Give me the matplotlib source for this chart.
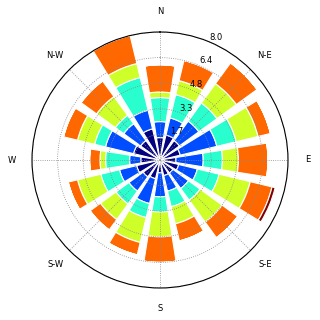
import numpy as np
import matplotlib
matplotlib.use("Agg")
import matplotlib.pyplot as plt

# wind directions, clockwise from north (16 sectors)
directions = ["N", "NNE", "NE", "ENE", "E", "ESE", "SE", "SSE",
              "S", "SSW", "SW", "WSW", "W", "WNW", "NW", "NNW"]

# frequency (%) of each speed bin per direction
bin1 = [1.4, 1.6, 1.5, 1.3, 1.0, 1.2, 1.0, 1.0, 0.8, 1.2, 1.3, 1.5, 1.2, 1.7, 1.5, 2.0]
bin2 = [1.0, 1.1, 1.5, 2.35, 1.7, 1.2, 1.2, 1.0, 1.5, 1.6, 1.1, 1.1, 0.7, 1.8, 1.3, 1.2]
bin3 = [1.5, 1.5, 1.4, 1.25, 1.2, 1.4, 0.9, 1.0, 0.95, 0.9, 1.0, 1.2, 1.5, 0.7, 0.65, 2.1]
bin4 = [0.35, 0.9, 1.5, 1.4, 1.0, 2.0, 1.7, 1.1, 1.55, 1.6, 1.2, 1.5, 0.35, 1.1, 1.45, 0.9]
bin5 = [1.7, 1.3, 1.6, 0.8, 1.85, 1.4, 1.2, 1.1, 1.6, 0.8, 0.8, 0.6, 0.65, 0.9, 1.2, 1.8]
bin6 = [0, 0, 0, 0, 0, 0.2, 0, 0, 0, 0, 0, 0, 0, 0, 0, 0]
bins = [bin1, bin2, bin3, bin4, bin5, bin6]

rgrid_vals = [1.6, 3.2, 4.8, 6.4, 8.0]
rgrid_labels = ["1.7", "3.3", "4.8", "6.4", "8.0"]
compass_labels = ["N", "N-E", "E", "S-E", "S", "S-W", "W", "N-W"]

fig = plt.figure(figsize=(3.2, 3.2), dpi=100)
ax = fig.add_axes([0.1, 0.1, 0.8, 0.8], projection="polar")
ax.set_theta_zero_location("N")
ax.set_theta_direction(-1)

nsector = len(directions)
theta = np.arange(nsector) * 2 * np.pi / nsector
width = 2 * np.pi / nsector * 0.8
colors = plt.cm.jet(np.linspace(0, 1, len(bins)))

bottom = np.zeros(nsector)
for vals, c in zip(bins, colors):
    vals = np.array(vals)
    ax.bar(theta, vals, width=width, bottom=bottom, color=c,
           edgecolor="white", linewidth=0.8)
    bottom = bottom + vals

ax.set_ylim(0, 8.0)
ax.set_rgrids(rgrid_vals, labels=rgrid_labels, angle=22.5, fontsize=6)
ax.set_thetagrids(np.arange(0, 360, 45), labels=compass_labels, fontsize=6)
ax.tick_params(axis="x", pad=4)
ax.grid(True, color="#888888", linestyle=":", linewidth=0.6)
ax.spines["polar"].set_linewidth(0.8)

fig.savefig("out.png", dpi=100)
